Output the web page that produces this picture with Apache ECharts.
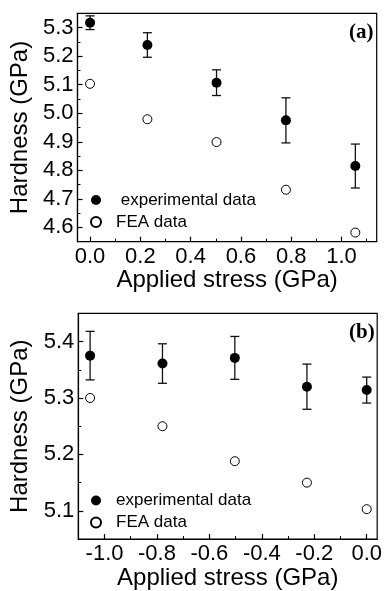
<!DOCTYPE html>
<html>
<head>
<meta charset="utf-8">
<script src="https://cdn.jsdelivr.net/npm/echarts@6/dist/echarts.min.js"></script>
<style>
  html, body { margin: 0; padding: 0; background: #fff; }
  #chart { width: 385px; height: 591px; }
</style>
</head>
<body>
<div id="chart"></div>
<script>
// panel (a): tensile stress
const stressA = [0, 0.228, 0.503, 0.779, 1.055];
const expA = [5.317, 5.239, 5.107, 4.975, 4.815];
const errA = [0.024, 0.043, 0.045, 0.079, 0.077];
const feaA = [5.103, 4.979, 4.899, 4.732, 4.582];

// panel (b): compressive stress
const stressB = [-1.055, -0.779, -0.503, -0.228, 0];
const expB = [5.375, 5.361, 5.371, 5.32, 5.314];
const errB = [0.043, 0.035, 0.038, 0.04, 0.023];
const feaB = [5.3, 5.25, 5.188, 5.15, 5.103];

// tick values
const xTicksA = [0, 0.2, 0.4, 0.6, 0.8, 1.0];
const xMinorA = [0.1, 0.3, 0.5, 0.7, 0.9, 1.1];
const yTicksA = [4.6, 4.7, 4.8, 4.9, 5.0, 5.1, 5.2, 5.3];
const yMinorA = [4.65, 4.75, 4.85, 4.95, 5.05, 5.15, 5.25];
const xTicksB = [-1.0, -0.8, -0.6, -0.4, -0.2, 0];
const xMinorB = [-0.9, -0.7, -0.5, -0.3, -0.1];
const yTicksB = [5.1, 5.2, 5.3, 5.4];
const yMinorB = [5.15, 5.25, 5.35];

const SANS = "Liberation Sans";
const chart = echarts.init(document.getElementById("chart"));

const fmt = (v) => Number(v).toFixed(1);

// major axis (with labels) + a second overlapping axis only for minor ticks
const makeAxes = (dim, grid, min, max, ticks, minor, name, nameGap) => {
  const main = {
    type: "value",
    gridIndex: grid,
    min: min,
    max: max,
    name: name,
    nameLocation: "middle",
    nameGap: nameGap,
    nameTextStyle: { fontFamily: SANS, fontSize: 24, color: "#000" },
    axisLine: { show: true, onZero: false, lineStyle: { color: "#000", width: 1.2 } },
    axisTick: {
      show: true,
      inside: true,
      length: 5,
      customValues: ticks,
      lineStyle: { color: "#000", width: 1.2 },
    },
    axisLabel: {
      show: true,
      customValues: ticks,
      formatter: fmt,
      margin: 4,
      fontFamily: SANS,
      fontSize: 22,
      color: "#000",
    },
    splitLine: { show: false },
  };
  const sub = {
    type: "value",
    gridIndex: grid,
    min: min,
    max: max,
    position: dim === "x" ? "bottom" : "left",
    axisLine: { show: false, onZero: false },
    axisTick: {
      show: true,
      inside: true,
      length: 3,
      customValues: minor,
      lineStyle: { color: "#000", width: 1 },
    },
    axisLabel: { show: false },
    splitLine: { show: false },
  };
  return [main, sub];
};

const xAxes = [
  ...makeAxes("x", 0, -0.05, 1.14, xTicksA, xMinorA, "Applied stress (GPa)", 25),
  ...makeAxes("x", 1, -1.1, 0.04, xTicksB, xMinorB, "Applied stress (GPa)", 24),
];
const yAxes = [
  ...makeAxes("y", 0, 4.55, 5.35, yTicksA, yMinorA, "Hardness (GPa)", 44),
  ...makeAxes("y", 1, 5.05, 5.45, yTicksB, yMinorB, "Hardness (GPa)", 38),
];

const errorBars = (params, api) => {
  const x = api.value(0);
  const hi = api.coord([x, api.value(2)]);
  const lo = api.coord([x, api.value(1)]);
  const hw = 4.5;
  const style = { stroke: "#111", lineWidth: 1.3 };
  return {
    type: "group",
    children: [
      { type: "line", shape: { x1: hi[0], y1: hi[1], x2: lo[0], y2: lo[1] }, style },
      { type: "line", shape: { x1: hi[0] - hw, y1: hi[1], x2: hi[0] + hw, y2: hi[1] }, style },
      { type: "line", shape: { x1: lo[0] - hw, y1: lo[1], x2: lo[0] + hw, y2: lo[1] }, style },
    ],
  };
};

const panelSeries = (xi, yi, stress, exp, err, fea, expName) => [
  {
    type: "custom",
    xAxisIndex: xi,
    yAxisIndex: yi,
    renderItem: errorBars,
    encode: { x: 0, y: [1, 2] },
    data: stress.map((s, i) => [s, exp[i] - err[i], exp[i] + err[i]]),
    z: 2,
    silent: true,
  },
  {
    name: expName,
    type: "scatter",
    xAxisIndex: xi,
    yAxisIndex: yi,
    symbol: "circle",
    symbolSize: 10,
    itemStyle: { color: "#000", opacity: 1 },
    data: stress.map((s, i) => [s, exp[i]]),
    z: 3,
  },
  {
    name: "FEA data",
    type: "scatter",
    xAxisIndex: xi,
    yAxisIndex: yi,
    symbol: "circle",
    symbolSize: 9,
    itemStyle: { color: "#fff", borderColor: "#000", borderWidth: 1, opacity: 1 },
    data: stress.map((s, i) => [s, fea[i]]),
    z: 3,
  },
];

const legendStyle = (left, top, names) => ({
  orient: "vertical",
  left: left,
  top: top,
  padding: 0,
  itemGap: 4,
  itemWidth: 30,
  itemHeight: 10,
  selectedMode: false,
  data: names,
  textStyle: { fontFamily: SANS, fontSize: 17, lineHeight: 18, color: "#000" },
});

chart.setOption({
  animation: false,
  backgroundColor: "#fff",
  title: [
    {
      text: "(a)",
      left: 349,
      top: 22,
      padding: 0,
      textStyle: { fontFamily: "Liberation Serif", fontWeight: "bold", fontSize: 21, color: "#000" },
    },
    {
      text: "(b)",
      left: 349,
      top: 322,
      padding: 0,
      textStyle: { fontFamily: "Liberation Serif", fontWeight: "bold", fontSize: 21, color: "#000" },
    },
  ],
  grid: [
    { left: 75.5, top: 13.3, width: 301.2, height: 228.4, show: true, borderColor: "#000", borderWidth: 1.2 },
    { left: 78.3, top: 313.3, width: 299.7, height: 228, show: true, borderColor: "#000", borderWidth: 1.2 },
  ],
  legend: [
    legendStyle(90, 191, [" experimental data", "FEA data"]),
    legendStyle(90, 491.5, ["experimental data", "FEA data"]),
  ],
  xAxis: xAxes,
  yAxis: yAxes,
  series: [
    ...panelSeries(0, 0, stressA, expA, errA, feaA, " experimental data"),
    ...panelSeries(2, 2, stressB, expB, errB, feaB, "experimental data"),
  ],
});
</script>
</body>
</html>
